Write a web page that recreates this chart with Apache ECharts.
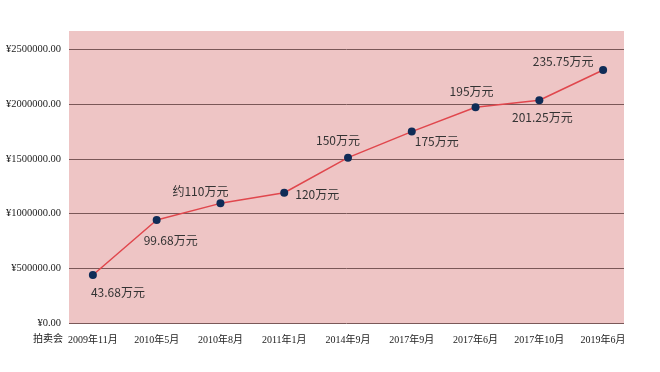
<!DOCTYPE html>
<html><head><meta charset="utf-8">
<script src="https://cdn.jsdelivr.net/npm/echarts@6/dist/echarts.min.js"></script>
<style>html,body{margin:0;padding:0;background:#fff}#c{width:660px;height:372px}</style>
</head><body><div id="c"></div>
<script>
var categories = ['2009年11月','2010年5月','2010年8月','2011年1月','2014年9月','2017年9月','2017年6月','2017年10月','2019年6月'];
var prices = [439000, 942000, 1094000, 1191000, 1512000, 1750000, 1973000, 2037000, 2313000];
var priceLabels = ['43.68万元','99.68万元','约110万元','120万元','150万元','175万元','195万元','201.25万元','235.75万元'];
var yTicks = [0, 500000, 1000000, 1500000, 2000000, 2500000];
var axisTitle = '拍卖会';

var labelOffsets = [[25,17],[14,20],[-20,-12],[33,2],[-10,-17],[25,10],[-4,-16],[3,17],[-40,-9]];

var chart = echarts.init(document.getElementById('c'));
var serif = '"Liberation Serif","DejaVu Serif","Noto Sans CJK SC",serif';
var yMax = 2670000;
chart.setOption({
  animation: false,
  backgroundColor: '#ffffff',
  grid: [
    {left: 69, right: 36, top: 31, bottom: 49, show: true, backgroundColor: '#eec5c5', borderWidth: 0, containLabel: false, outerBoundsMode: 'none'},
    {left: 61, right: 25, top: 31, bottom: 49, containLabel: false, outerBoundsMode: 'none'}
  ],
  xAxis: [
    {type: 'category', gridIndex: 0, data: categories, show: false},
    {type: 'category', gridIndex: 1, data: categories, boundaryGap: true,
     axisLine: {show: false}, axisTick: {show: false}, splitLine: {show: false},
     axisLabel: {interval: 0, margin: 12, fontFamily: serif, fontSize: 10, color: '#222'}}
  ],
  yAxis: [
    {type: 'value', gridIndex: 0, min: 0, max: yMax, interval: 500000,
     axisLine: {show: false}, axisTick: {show: false},
     splitLine: {show: true, showMaxLine: false, showMinLine: true, lineStyle: {color: '#7a5858', width: 1}},
     axisLabel: {showMaxLabel: false, margin: 8, fontFamily: serif, fontSize: 10.5, color: '#222',
       formatter: function (v) { return yTicks.indexOf(v) >= 0 ? '¥' + v.toFixed(2) : ''; }}},
    {type: 'value', gridIndex: 1, min: 0, max: yMax, show: false, splitLine: {show: false}}
  ],
  graphic: [{type: 'text', left: 33, top: 334, style: {text: axisTitle, font: '10px ' + serif, fill: '#222'}}],
  series: [{
    type: 'line', xAxisIndex: 1, yAxisIndex: 1,
    data: prices.map(function (v, i) {
      return {value: v, label: {formatter: priceLabels[i], offset: labelOffsets[i]}};
    }),
    symbol: 'circle', symbolSize: 8,
    itemStyle: {color: '#0f2c57'},
    lineStyle: {color: '#e0474d', width: 1.5},
    label: {show: true, position: 'inside', fontSize: 12, color: '#333',
      fontFamily: '"Noto Sans CJK SC","Noto Sans",sans-serif'},
    z: 5
  }]
});
</script></body></html>
